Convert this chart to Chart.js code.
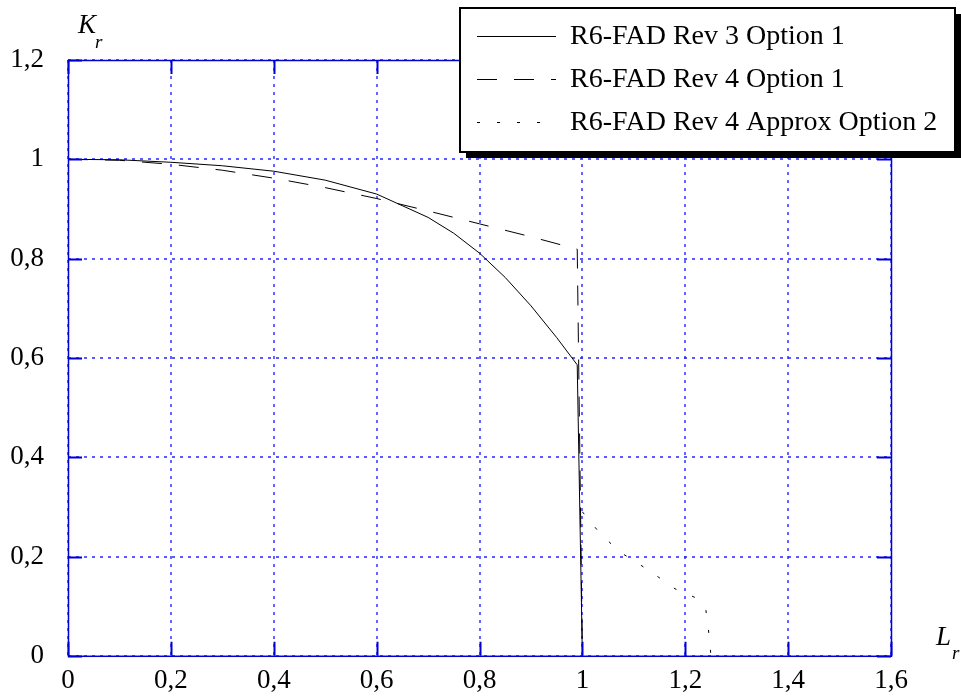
<!DOCTYPE html>
<html>
<head>
<meta charset="utf-8">
<script src="https://cdn.jsdelivr.net/npm/chart.js@4.4.1/dist/chart.umd.min.js"></script>
<style>
    html, body { margin: 0; padding: 0; background: #fff; }
    canvas { display: block; }
</style>
</head>
<body>
<canvas id="krChart" width="961" height="696"></canvas>
<script>
// values
const rev3Lr = [0, 0.1, 0.2, 0.3, 0.4, 0.5, 0.6, 0.7, 0.75, 0.8, 0.85, 0.9, 0.95, 0.99, 1.0];
const rev3Kr = [1.0, 0.999, 0.994, 0.987, 0.976, 0.958, 0.930, 0.883, 0.851, 0.811, 0.762, 0.705, 0.641, 0.586, 0];

const rev4Lr = [0, 0.1, 0.2, 0.3, 0.4, 0.5, 0.6, 0.7, 0.8, 0.9, 0.99, 1.0];
const rev4Kr = [1.0, 0.998, 0.990, 0.978, 0.962, 0.943, 0.921, 0.896, 0.870, 0.844, 0.819, 0];

const approxLr = [1.0, 1.03, 1.07, 1.11, 1.15, 1.18, 1.22, 1.24, 1.245, 1.25];
const approxKr = [0.29, 0.252, 0.211, 0.185, 0.157, 0.135, 0.117, 0.093, 0.054, 0];

const seriesNames = ['R6-FAD Rev 3 Option 1', 'R6-FAD Rev 4 Option 1', 'R6-FAD Rev 4 Approx Option 2'];

const xTickLabels = ['0', '0,2', '0,4', '0,6', '0,8', '1', '1,2', '1,4', '1,6'];
const yTickLabels = ['0', '0,2', '0,4', '0,6', '0,8', '1', '1,2'];

const serif = "'Liberation Serif', 'Times New Roman', serif";
const frameBlue = '#0000d0';
const gridBlue = '#2424ff';

const toPoints = (xs, ys) => xs.map((x, i) => ({ x: x, y: ys[i] }));

// dotted blue grid, drawn under the curves
const gridPlugin = {
    id: 'dottedGrid',
    beforeDatasetsDraw(chart) {
        const { ctx, chartArea: area, scales } = chart;
        ctx.save();
        ctx.strokeStyle = gridBlue;
        ctx.lineWidth = 1.4;
        ctx.setLineDash([3, 5]);

        ctx.beginPath();
        scales.x.ticks.forEach((tick) => {
            const px = Math.round(scales.x.getPixelForValue(tick.value));
            ctx.moveTo(px, area.top);
            ctx.lineTo(px, area.bottom);
        });
        scales.y.ticks.forEach((tick) => {
            const py = Math.round(scales.y.getPixelForValue(tick.value));
            ctx.moveTo(area.left, py);
            ctx.lineTo(area.right, py);
        });
        ctx.stroke();
        ctx.restore();
    }
};

// box round the plot with short ticks pointing inwards
const framePlugin = {
    id: 'frame',
    afterDatasetsDraw(chart) {
        const { ctx, chartArea: area, scales } = chart;
        const tickLen = 14;
        ctx.save();
        ctx.strokeStyle = frameBlue;
        ctx.lineWidth = 1.5;
        ctx.strokeRect(area.left + 0.5, area.top + 0.5, area.right - area.left, area.bottom - area.top);
        ctx.lineWidth = 2;
        ctx.beginPath();
        scales.x.ticks.forEach((tick) => {
            const px = Math.round(scales.x.getPixelForValue(tick.value)) + 0.5;
            ctx.moveTo(px, area.bottom);
            ctx.lineTo(px, area.bottom - tickLen);
            ctx.moveTo(px, area.top);
            ctx.lineTo(px, area.top + tickLen);
        });
        scales.y.ticks.forEach((tick) => {
            const py = Math.round(scales.y.getPixelForValue(tick.value)) + 0.5;
            ctx.moveTo(area.left, py);
            ctx.lineTo(area.left + tickLen, py);
            ctx.moveTo(area.right, py);
            ctx.lineTo(area.right - tickLen, py);
        });
        ctx.stroke();
        ctx.restore();
    }
};

// K_r and L_r axis names
const axisNamePlugin = {
    id: 'axisNames',
    afterDraw(chart) {
        const { ctx } = chart;
        ctx.save();
        ctx.fillStyle = '#000';
        ctx.textBaseline = 'alphabetic';
        ctx.font = `italic 27px ${serif}`;
        ctx.fillText('K', 78, 33);
        ctx.fillText('L', 936, 645);
        ctx.font = `italic 19px ${serif}`;
        ctx.fillText('r', 95, 48);
        ctx.fillText('r', 952, 659);
        ctx.restore();
    }
};

// boxed legend with the drop shadow
const boxLegendPlugin = {
    id: 'boxLegend',
    afterDraw(chart) {
        const { ctx } = chart;
        const box = { x: 460, y: 8, w: 495, h: 144 };
        const rowY = [36, 79, 122];
        ctx.save();
        ctx.fillStyle = '#000';
        ctx.fillRect(box.x + 6, box.y + 6, box.w, box.h);
        ctx.fillStyle = '#fff';
        ctx.fillRect(box.x, box.y, box.w, box.h);
        ctx.strokeStyle = '#000';
        ctx.lineWidth = 2;
        ctx.strokeRect(box.x, box.y, box.w, box.h);

        chart.data.datasets.forEach((dataset, i) => {
            ctx.beginPath();
            ctx.strokeStyle = dataset.borderColor;
            ctx.lineWidth = dataset.borderWidth;
            ctx.setLineDash(dataset.borderDash || []);
            ctx.moveTo(477, rowY[i] + 0.5);
            ctx.lineTo(556, rowY[i] + 0.5);
            ctx.stroke();
            ctx.setLineDash([]);
            ctx.fillStyle = '#000';
            ctx.font = `28px ${serif}`;
            ctx.textBaseline = 'middle';
            ctx.fillText(dataset.label, 570, rowY[i] + 1);
        });
        ctx.restore();
    }
};

const lineStyles = [[], [20, 17], [3, 17]];
const seriesData = [
    toPoints(rev3Lr, rev3Kr),
    toPoints(rev4Lr, rev4Kr),
    toPoints(approxLr, approxKr)
];

new Chart(document.getElementById('krChart'), {
    type: 'line',
    data: {
        datasets: seriesNames.map((name, i) => ({
            label: name,
            data: seriesData[i],
            borderColor: '#000',
            borderWidth: 1,
            borderDash: lineStyles[i],
            pointRadius: 0,
            tension: 0,
            fill: false
        }))
    },
    options: {
        responsive: false,
        animation: false,
        events: [],
        layout: {
            padding: { top: 60, right: 70, left: 0, bottom: 0 }
        },
        plugins: {
            legend: { display: false },
            tooltip: { enabled: false }
        },
        scales: {
            x: {
                type: 'linear',
                min: 0,
                max: 1.6,
                afterFit: (scale) => { scale.height = 40; },
                ticks: {
                    stepSize: 0.2,
                    autoSkip: false,
                    maxRotation: 0,
                    padding: 9,
                    color: '#000',
                    font: { family: serif, size: 27 },
                    callback: (value, index) => xTickLabels[index]
                },
                grid: { display: false, drawTicks: false },
                border: { display: false }
            },
            y: {
                type: 'linear',
                min: 0,
                max: 1.2,
                afterFit: (scale) => { scale.width = 68; },
                ticks: {
                    stepSize: 0.2,
                    padding: 24,
                    color: '#000',
                    font: { family: serif, size: 27 },
                    callback: (value, index) => yTickLabels[index]
                },
                grid: { display: false, drawTicks: false },
                border: { display: false }
            }
        }
    },
    plugins: [gridPlugin, framePlugin, axisNamePlugin, boxLegendPlugin]
});
</script>
</body>
</html>
